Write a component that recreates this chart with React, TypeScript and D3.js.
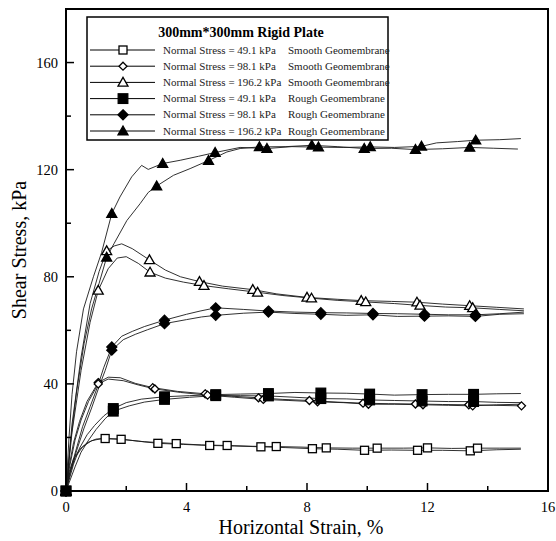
import React from 'react'
import * as d3 from 'd3'

// strain (%), shear stress (kPa), third value 1 = point drawn with a marker
type Pt = [number, number, number?]

const smooth49A: Pt[] = [[0,0,1],[0.1,7],[0.25,12],[0.45,15.5],[0.7,18],[1.0,19.4],[1.3,19.6,1],[1.8,19.4],[2.4,18.6],[3.05,17.8,1],[3.9,17.4],[4.77,17.0,1],[5.6,16.8],[6.47,16.5,1],[7.3,16.2],[8.18,15.8,1],[9.0,15.6],[9.91,15.2,1],[10.8,15.3],[11.67,15.2,1],[12.5,15.2],[13.42,15.0,1],[14.3,15.4],[15.1,15.6]]
const smooth49B: Pt[] = [[0,0,1],[0.1,6],[0.3,12.5],[0.55,16.5],[0.85,18.8],[1.2,19.6],[1.83,19.3,1],[2.6,18.4],[3.66,17.7,1],[4.5,17.2],[5.35,17.0,1],[6.2,16.7],[6.98,16.6,1],[7.8,16.4],[8.64,16.1,1],[9.5,16.0],[10.33,16.0,1],[11.2,16.0],[12.0,16.1,1],[12.8,15.9],[13.66,16.0,1],[14.4,16.0],[15.1,16.0]]

const smooth98A: Pt[] = [[0,0,1],[0.1,9],[0.25,18],[0.45,26],[0.7,33.5],[1.07,40.5,1],[1.4,42.5],[1.8,42.3],[2.3,40.2],[2.88,38.6,1],[3.7,37.2],[4.62,36.3,1],[5.5,35.4],[6.39,34.8,1],[7.2,34.2],[8.08,33.8,1],[9.0,33.2],[9.86,32.8,1],[10.7,32.6],[11.6,32.5,1],[12.5,32.3],[13.37,32.2,1],[14.2,32.0],[15.12,31.8,1]]
const smooth98B: Pt[] = [[0,0,1],[0.1,8],[0.3,19],[0.5,26.5],[0.75,33.5],[1.07,40,1],[1.4,41.8],[1.9,41.2],[2.4,39.6],[2.95,38.1,1],[3.8,36.8],[4.7,35.8,1],[5.6,35.0],[6.55,34.2,1],[7.4,33.8],[8.35,33.3,1],[9.2,33],[10.04,32.4,1],[10.9,32.4],[11.85,32.2,1],[12.7,32.0],[13.5,31.8,1],[14.3,32.2],[15.1,32.4]]

const smooth196A: Pt[] = [[0,0,1],[0.2,25],[0.5,50],[0.8,70],[1.1,82],[1.35,89.7,1],[1.6,91.5],[1.85,92.3],[2.2,90.5],[2.77,86.3,1],[3.3,82.5],[3.8,80],[4.43,78.2,1],[5.2,76.5],[6.2,75.2,1],[7.0,73.6],[8.0,72.3,1],[9.0,71.6],[9.8,71.1,1],[10.8,70.8],[11.65,70.5,1],[12.5,69.8],[13.4,69.2,1],[14.3,68.6],[15.2,68.0]]
const smooth196B: Pt[] = [[0,0,1],[0.2,22],[0.5,45],[0.8,63],[1.07,74.9,1],[1.4,83],[1.7,87],[2.0,87.5],[2.4,85],[2.79,81.7,1],[3.3,79.5],[3.9,78],[4.58,76.7,1],[5.4,75.5],[6.36,74.2,1],[7.2,73],[8.15,72,1],[9.0,71.2],[9.95,70.6,1],[10.9,70],[11.75,69.3,1],[12.6,68.7],[13.5,68.4,1],[14.4,67.8],[15.2,67.3]]

const rough49A: Pt[] = [[0,0,1],[0.1,4],[0.25,10],[0.45,16],[0.7,21],[0.95,24.5],[1.25,28],[1.57,30.8,1],[2.0,33],[2.5,34.3],[3.27,35.2,1],[4.1,35.6],[4.97,36,1],[5.8,36.2],[6.72,36.4,1],[7.6,36.8],[8.46,36.6,1],[9.3,36.5],[10.08,36.2,1],[10.9,35.8],[11.82,36,1],[12.7,36.1],[13.53,36.1,1],[14.3,36.3],[15.1,36.4]]
const rough49B: Pt[] = [[0,0,1],[0.1,3],[0.3,9],[0.5,14.5],[0.75,19],[1.0,23],[1.3,27],[1.57,29.8,1],[2.1,31.8],[2.6,33.2],[3.27,34.2,1],[4.1,35],[4.97,35.6,1],[5.8,35.6],[6.72,35.5,1],[7.6,35],[8.46,34.5,1],[9.3,34.4],[10.08,34,1],[10.9,33.8],[11.82,33.6,1],[12.7,33.4],[13.53,33.4,1],[14.3,33.1],[15.1,33]]

const rough98A: Pt[] = [[0,0,1],[0.15,8],[0.35,16],[0.55,24],[0.8,31.5],[1.05,39],[1.25,46],[1.52,53.8,1],[1.85,57.8],[2.2,59.6],[2.6,61.4],[3.27,63.8,1],[4.0,66],[4.45,67.2],[4.97,68.4,1],[5.9,67.8],[6.72,67.2,1],[7.6,66.8],[8.46,66.6,1],[9.3,66.5],[10.19,66.3,1],[11.0,66.2],[11.9,66,1],[12.7,65.8],[13.59,65.8,1],[14.4,66.2],[15.2,66.8]]
const rough98B: Pt[] = [[0,0,1],[0.15,7],[0.35,15],[0.6,23.5],[0.85,31],[1.1,39],[1.3,45],[1.52,52.6,1],[1.9,56.5],[2.3,58.5],[2.7,60.2],[3.27,62.5,1],[4.0,64],[4.5,65],[4.97,65.6,1],[5.9,66.4],[6.72,66.8,1],[7.6,66.3],[8.46,66,1],[9.3,65.6],[10.19,65.8,1],[11.0,65.2],[11.9,65.3,1],[12.7,65.4],[13.59,65.2,1],[14.4,66],[15.2,66.2]]

const rough196A: Pt[] = [[0,0,1],[0.1,20],[0.2,36],[0.35,52],[0.58,68],[0.91,80],[1.18,89],[1.52,103.6,1],[1.79,109.8],[2.18,117.3],[2.51,121.6],[2.73,120.1],[3.21,122.3,1],[3.79,123.5],[4.4,125],[4.95,126.4,1],[5.78,128.3],[6.67,127.9,1],[7.5,128.6],[8.38,128.4,1],[9.2,128.3],[10.1,128.5,1],[10.9,128.3],[11.8,128.7,1],[12.3,130],[13.0,130.5],[13.6,131,1],[14.4,131.2],[15.1,131.6]]
const rough196B: Pt[] = [[0,0,1],[0.15,18],[0.35,37],[0.6,55],[0.85,68],[1.1,77.6],[1.35,87.3,1],[1.6,92.5],[2.02,101],[2.46,107.3],[2.73,111.5],[3.01,113.9,1],[3.57,117.9],[4.12,120.4],[4.73,123.4,1],[5.34,126.6],[5.78,127.9],[6.42,128.5,1],[7.3,128.6],[8.16,129.1,1],[9.0,128.6],[9.9,127.9,1],[10.8,128.0],[11.6,127.5,1],[12.5,127.8],[13.4,128.3,1],[14.2,128],[15.0,127.7]]

const legendLabels = [
  ['Normal Stress = 49.1 kPa', 'Smooth Geomembrane'],
  ['Normal Stress = 98.1 kPa', 'Smooth Geomembrane'],
  ['Normal Stress = 196.2 kPa', 'Smooth Geomembrane'],
  ['Normal Stress = 49.1 kPa', 'Rough Geomembrane'],
  ['Normal Stress = 98.1 kPa', 'Rough Geomembrane'],
  ['Normal Stress = 196.2 kPa', 'Rough Geomembrane'],
]
const legendTitle = '300mm*300mm Rigid Plate'
const xTicks = [0, 4, 8, 12, 16]
const xMinor = [2, 6, 10, 14]
const yTicks = [0, 40, 80, 120, 160]
const yMinor = [20, 60, 100, 140]

type Shape = 'square' | 'diamond' | 'triangle'
const series: { shape: Shape; filled: boolean; tests: Pt[][] }[] = [
  { shape: 'square', filled: false, tests: [smooth49A, smooth49B] },
  { shape: 'diamond', filled: false, tests: [smooth98A, smooth98B] },
  { shape: 'triangle', filled: false, tests: [smooth196A, smooth196B] },
  { shape: 'square', filled: true, tests: [rough49A, rough49B] },
  { shape: 'diamond', filled: true, tests: [rough98A, rough98B] },
  { shape: 'triangle', filled: true, tests: [rough196A, rough196B] },
]

const Marker = ({ x, y, shape, filled }: { x: number; y: number; shape: Shape; filled: boolean }) => {
  const fill = filled ? '#000' : '#fff'
  const sw = 1.3
  if (shape === 'square') {
    const h = filled ? 4.8 : 4
    return <rect x={x - h} y={y - h} width={2 * h} height={2 * h} fill={fill} stroke="#000" strokeWidth={sw} />
  }
  if (shape === 'diamond') {
    const h = filled ? 5 : 4
    return <path d={`M${x},${y - h}L${x + h},${y}L${x},${y + h}L${x - h},${y}Z`} fill={fill} stroke="#000" strokeWidth={sw} />
  }
  const h = 5
  return <path d={`M${x},${y - h}L${x + h},${y + h * 0.75}L${x - h},${y + h * 0.75}Z`} fill={fill} stroke="#000" strokeWidth={sw} />
}

export default function App() {
  const left = 66, right = 548, top = 9, bottom = 491
  const x = d3.scaleLinear().domain([0, 16]).range([left, right])
  const y = d3.scaleLinear().domain([0, 180]).range([bottom, top])
  const line = d3.line<Pt>().x(d => x(d[0])).y(d => y(d[1]))
  const serif = 'Liberation Serif, Times New Roman, serif'

  const lx0 = 90, lx1 = 155, lmx = 123, ltx = 163, ltx2 = 288

  return (
    <svg width={556} height={541} style={{ position: 'absolute', left: 0, top: 0, fontFamily: serif }}>
      <rect width={556} height={541} fill="#fff" />
      {series.map((s, i) => s.tests.map((t, j) => (
        <path key={`l${i}${j}`} d={line(t) || ''} fill="none" stroke="#1a1a1a" strokeWidth={0.9} />
      )))}
      {series.map((s, i) => s.tests.map((t, j) => t.filter(p => p[2]).map((p, k) => (
        <Marker key={`m${i}${j}${k}`} x={x(p[0])} y={y(p[1])} shape={s.shape} filled={s.filled} />
      ))))}
      <rect x={left} y={top} width={right - left} height={bottom - top} fill="none" stroke="#000" strokeWidth={2} />
      {xTicks.map(t => (
        <g key={`xt${t}`}>
          <line x1={x(t)} x2={x(t)} y1={bottom} y2={bottom - 8} stroke="#000" strokeWidth={1.5} />
          <text x={x(t)} y={512} textAnchor="middle" fontSize={14.5}>{t}</text>
        </g>
      ))}
      {xMinor.map(t => <line key={`xm${t}`} x1={x(t)} x2={x(t)} y1={bottom} y2={bottom - 5} stroke="#000" strokeWidth={1.5} />)}
      {yTicks.map(t => (
        <g key={`yt${t}`}>
          <line x1={left} x2={left + 8} y1={y(t)} y2={y(t)} stroke="#000" strokeWidth={1.5} />
          <text x={left - 8} y={y(t) + 5} textAnchor="end" fontSize={14.5}>{t}</text>
        </g>
      ))}
      {yMinor.map(t => <line key={`ym${t}`} x1={left} x2={left + 5} y1={y(t)} y2={y(t)} stroke="#000" strokeWidth={1.5} />)}
      <text x={301} y={534} textAnchor="middle" fontSize={20}>Horizontal Strain, %</text>
      <text transform="translate(26,250) rotate(-90)" textAnchor="middle" fontSize={20}>Shear Stress, kPa</text>

      <rect x={87} y={17} width={301} height={123} fill="#fff" stroke="#000" strokeWidth={1.5} />
      <text x={241} y={37} textAnchor="middle" fontSize={14} fontWeight="bold">{legendTitle}</text>
      {legendLabels.map((lab, i) => {
        const ly = 50 + i * 16.2
        return (
          <g key={`lg${i}`}>
            <line x1={lx0} x2={lx1} y1={ly} y2={ly} stroke="#000" strokeWidth={1} />
            <Marker x={lmx} y={ly} shape={series[i].shape} filled={series[i].filled} />
            <text x={ltx} y={ly + 3.5} fontSize={11} fill="#222">{lab[0]}</text>
            <text x={ltx2} y={ly + 3.5} fontSize={11} fill="#222">{lab[1]}</text>
          </g>
        )
      })}
    </svg>
  )
}
